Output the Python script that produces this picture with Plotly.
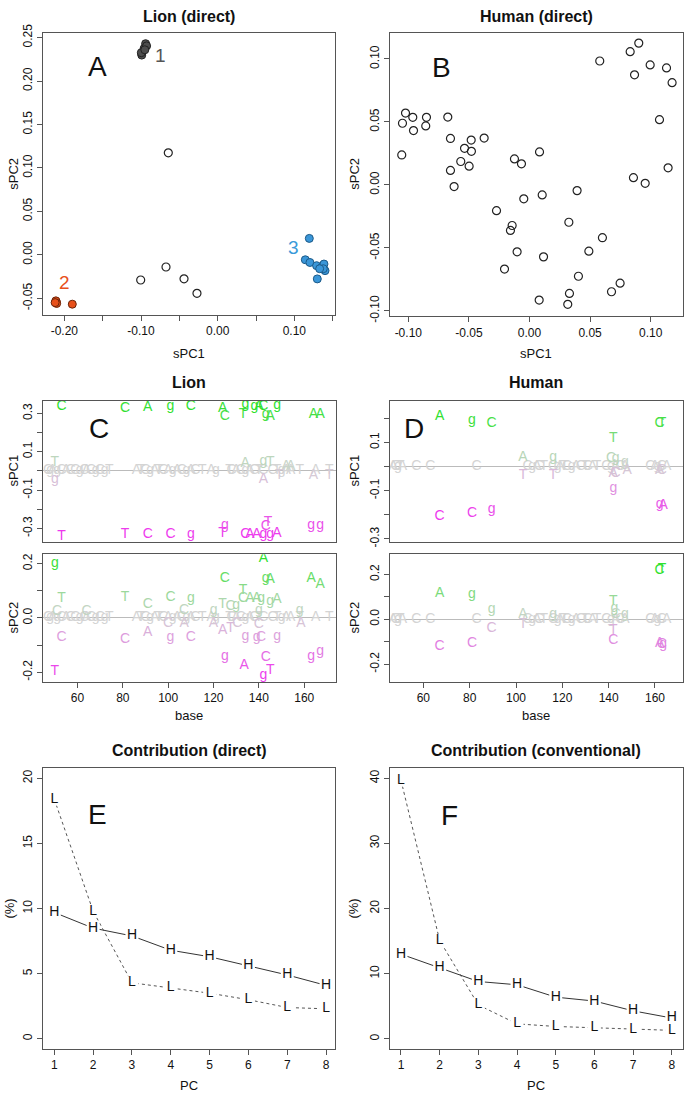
import plotly.graph_objects as go

W, H = 685, 1099
FONT = "Liberation Sans, Arial, sans-serif"

# ---------------- data ----------------
# Panel A: Lion (direct)
lion_open_x = [-0.0644, -0.1004, -0.0674, -0.0439, -0.027]
lion_open_y = [0.1174, -0.029, -0.014, -0.0276, -0.0443]
cl1_x = [-0.099, -0.094, -0.096, -0.0927, -0.0996, -0.095]
cl1_y = [0.2299, 0.243, 0.2375, 0.2405, 0.2326, 0.236]
cl2_x = [-0.2104, -0.211, -0.21, -0.212, -0.1896]
cl2_y = [-0.0542, -0.053, -0.056, -0.055, -0.0568]
cl3_x = [0.1195, 0.1143, 0.1203, 0.129, 0.1299, 0.1356, 0.1386, 0.14, 0.1377, 0.133]
cl3_y = [0.0189, -0.0057, -0.0088, -0.0125, -0.0277, -0.0144, -0.0106, -0.0182, -0.016, -0.016]

# Panel B: Human (direct)
human_x = [-0.1048, -0.1023, -0.0963, -0.0957, -0.085, -0.0856, -0.1054, -0.0674, -0.0652,
           -0.0536, -0.0481, -0.0479, -0.0374, -0.0567, -0.0498, -0.0652, -0.0622, -0.0124,
           -0.0066, 0.0083, -0.0047, 0.0105, -0.0272, -0.0143, -0.0157, -0.0102, 0.0116,
           -0.0206, 0.008, 0.0316, 0.033, 0.0404, 0.0325, 0.0393, 0.049, 0.0602, 0.0677,
           0.0748, 0.058, 0.0831, 0.0902, 0.0867, 0.0996, 0.1131, 0.1177, 0.1073, 0.1144,
           0.0858, 0.0955]
human_y = [0.049, 0.0571, 0.0537, 0.0432, 0.0537, 0.0469, 0.0238, 0.0539, 0.0369,
           0.0291, 0.0356, 0.0267, 0.0372, 0.0186, 0.0149, 0.0115, -0.0013, 0.0207,
           0.0168, 0.0262, -0.011, -0.0079, -0.0204, -0.0322, -0.0361, -0.0531, -0.0571,
           -0.0668, -0.0914, -0.0948, -0.0861, -0.0725, -0.0296, -0.0045, -0.0526, -0.0419,
           -0.0848, -0.078, 0.0984, 0.1058, 0.1126, 0.0874, 0.0953, 0.0929, 0.0812, 0.0518,
           0.0136, 0.0058, 0.0013]

# Panel C: Lion loadings
c1_base = [53, 81, 91, 101, 110, 124, 125, 133, 134, 138, 140, 142, 143, 145, 148, 164, 167,
           53, 81, 91, 101, 110, 124, 125, 134, 136, 139, 142, 145, 144, 143, 148, 163, 167,
           50, 134, 142, 145, 152, 154,
           50, 142, 149, 164, 171]
c1_letter = ["C", "C", "A", "g", "C", "A", "C", "T", "g", "g", "A", "C", "g", "A", "g", "A", "A",
             "T", "T", "C", "C", "g", "T", "g", "C", "A", "A", "g", "g", "T", "C", "A", "g", "g",
             "T", "A", "g", "T", "A", "A",
             "g", "A", "T", "A", "T"]
c1_val = [0.338, 0.326, 0.329, 0.334, 0.338, 0.326, 0.286, 0.292, 0.346, 0.338, 0.338, 0.338, 0.292, 0.286, 0.343, 0.292, 0.292,
          -0.34, -0.331, -0.334, -0.334, -0.331, -0.329, -0.283, -0.334, -0.334, -0.33, -0.331, -0.331, -0.27, -0.288, -0.326, -0.286, -0.286,
          0.046, 0.04, 0.051, 0.046, 0.022, 0.022,
          -0.046, -0.043, -0.022, -0.022, -0.022]

c2_base = [50, 142, 143, 145, 125, 163, 167,
           53, 81, 91, 101, 110, 133, 133, 136, 139, 141, 145, 148, 124, 127.5, 130, 120, 107, 140, 158, 64, 51,
           53, 81, 91, 101, 110, 120, 124, 127.5, 130.5, 134, 139, 141, 148, 140, 158.5, 107, 100,
           50, 125, 133.5, 143, 145, 142, 163, 167]
c2_letter = ["g", "A", "g", "A", "C", "A", "A",
             "T", "T", "C", "C", "g", "T", "C", "A", "A", "g", "g", "A", "T", "C", "g", "g", "C", "g", "g", "C", "C",
             "C", "C", "A", "g", "C", "A", "A", "T", "C", "g", "g", "C", "g", "C", "A", "A", "C",
             "T", "g", "A", "C", "T", "g", "g", "g"]
c2_val = [0.202, 0.218, 0.145, 0.142, 0.145, 0.145, 0.124,
          0.072, 0.075, 0.051, 0.075, 0.073, 0.102, 0.073, 0.073, 0.073, 0.073, 0.061, 0.067, 0.051, 0.041, 0.047, 0.027, 0.027, 0.029, 0.027, 0.023, 0.023,
          -0.073, -0.079, -0.052, -0.073, -0.073, -0.022, -0.048, -0.04, -0.022, -0.07, -0.073, -0.073, -0.07, -0.024, -0.022, -0.019, -0.022,
          -0.198, -0.141, -0.177, -0.145, -0.194, -0.213, -0.141, -0.122]

lion_zero_base = [47, 48, 49, 51, 53, 55, 57, 59, 61, 63, 64, 66, 68, 70, 72, 74,
                  86, 88, 90, 92, 94, 96, 98, 100, 102, 104, 106, 108, 110, 112, 115, 119, 121,
                  127, 128, 130, 132, 134, 136, 138, 140, 142, 146, 148, 150, 152, 154, 158, 165, 171]
lion_zero_letter = ["C", "g", "A", "g", "C", "A", "C", "C", "g", "C", "A", "C", "g", "C", "g", "T",
                    "A", "T", "C", "g", "A", "T", "C", "A", "g", "A", "C", "g", "A", "C", "T", "A", "g",
                    "T", "C", "A", "C", "g", "A", "C", "T", "C", "C", "T", "g", "A", "A", "T", "A", "T"]

# Panel D: Human loadings
d1_base = [67, 81, 89.5, 162, 163, 142, 141, 143, 103, 116, 147,
           103, 116, 142, 143, 148, 162, 163, 142,
           67, 81, 89.5, 162, 163.5]
d1_letter = ["A", "g", "C", "C", "T", "T", "C", "g", "A", "g", "g",
             "T", "T", "A", "C", "A", "A", "C", "g",
             "C", "C", "g", "g", "A"]
d1_val = [0.207, 0.19, 0.177, 0.177, 0.177, 0.118, 0.033, 0.033, 0.037, 0.037, 0.016,
          -0.038, -0.038, -0.027, -0.027, -0.018, -0.018, -0.018, -0.09,
          -0.208, -0.195, -0.177, -0.158, -0.163]

d2_base = [162, 163, 67, 81, 89.5, 142, 142.5, 103, 116, 143, 147,
           89.5, 103, 142, 142, 67, 81, 162, 163, 163.5]
d2_letter = ["C", "T", "A", "g", "g", "T", "g", "A", "g", "C", "g",
             "C", "T", "T", "C", "C", "C", "A", "C", "g"]
d2_val = [0.218, 0.222, 0.117, 0.109, 0.044, 0.08, 0.047, 0.022, 0.022, 0.022, 0.022,
          -0.041, -0.022, -0.051, -0.095, -0.121, -0.109, -0.109, -0.112, -0.114]

human_zero_base = [47, 48, 49, 50, 51, 57, 63, 83, 105, 107, 109, 110, 112, 116, 118, 119, 121,
                   122, 124, 126, 128, 130, 131, 133, 135, 139, 141, 143, 145, 147, 158, 160, 161, 163, 165]
human_zero_letter = ["A", "C", "g", "T", "A", "C", "C", "C", "C", "g", "A", "C", "T", "C", "g", "A", "T",
                     "C", "g", "A", "C", "T", "C", "A", "T", "C", "g", "A", "C", "A", "C", "A", "g", "C", "A"]

# Panels E/F: contributions
pcs = [1, 2, 3, 4, 5, 6, 7, 8]
direct_H = [9.7, 8.5, 7.9, 6.8, 6.3, 5.6, 4.9, 4.1]
direct_L = [18.4, 9.8, 4.3, 3.9, 3.5, 3.0, 2.4, 2.3]
conv_H = [13.0, 10.9, 8.8, 8.3, 6.4, 5.8, 4.3, 3.2]
conv_L = [39.7, 15.1, 5.2, 2.3, 1.9, 1.7, 1.5, 1.3]

# ---------------- layout helpers ----------------
def dx(a, b):
    return [a / W, b / W]

def dy(top, bot):
    return [1 - bot / H, 1 - top / H]

axis_common = dict(showline=True, mirror=True, linecolor="#555", linewidth=1,
                   ticks="outside", ticklen=5, tickcolor="#555", showgrid=False,
                   zeroline=False, tickfont=dict(size=12, color="#111", family=FONT),
                   fixedrange=True)

panels = {
    1: dict(x=(43, 335), y=(24, 310), xr=[-0.2278, 0.153], yr=[-0.069, 0.2557],
            xt=([-0.2, -0.15, -0.1, -0.05, 0, 0.05, 0.1, 0.15], ["-0.20", "", "-0.10", "", "0.00", "", "0.10", ""]),
            yt=([-0.05, 0, 0.05, 0.1, 0.15, 0.2, 0.25], ["-0.05", "0.00", "0.05", "0.10", "0.15", "0.20", "0.25"])),
    2: dict(x=(390, 683), y=(24, 311.7), xr=[-0.1151, 0.1267], yr=[-0.1044, 0.1209],
            xt=([-0.1, -0.05, 0, 0.05, 0.1], ["-0.10", "-0.05", "0.00", "0.05", "0.10"]),
            yt=([-0.1, -0.05, 0, 0.05, 0.1], ["-0.10", "-0.05", "0.00", "0.05", "0.10"])),
    3: dict(x=(43, 336), y=(397, 540), xr=[44.8, 174], yr=[-0.369, 0.367],
            xt=None,
            yt=([-0.3, -0.2, -0.1, 0, 0.1, 0.2, 0.3], ["-0.3", "", "-0.1", "", "0.1", "", "0.3"])),
    4: dict(x=(43, 336), y=(552.7, 682.3), xr=[44.8, 174], yr=[-0.236, 0.235],
            xt=([60, 80, 100, 120, 140, 160], ["60", "80", "100", "120", "140", "160"]),
            yt=([-0.2, -0.1, 0, 0.1, 0.2], ["-0.2", "", "0.0", "", "0.2"])),
    5: dict(x=(390, 683), y=(397.3, 540), xr=[45.6, 172.1], yr=[-0.311, 0.272],
            xt=None,
            yt=([-0.3, -0.2, -0.1, 0, 0.1, 0.2], ["-0.3", "", "-0.1", "", "0.1", ""])),
    6: dict(x=(390, 683), y=(552.7, 682.3), xr=[45.6, 172.1], yr=[-0.279, 0.29],
            xt=([60, 80, 100, 120, 140, 160], ["60", "80", "100", "120", "140", "160"]),
            yt=([-0.2, -0.1, 0, 0.1, 0.2], ["-0.2", "", "0.0", "", "0.2"])),
    7: dict(x=(43, 335), y=(770, 1054.3), xr=[0.709, 8.23], yr=[-0.78, 20.76],
            xt=(pcs, [str(p) for p in pcs]),
            yt=([0, 5, 10, 15, 20], ["0", "5", "10", "15", "20"])),
    8: dict(x=(390, 683), y=(770, 1054), xr=[0.716, 8.29], yr=[-1.5, 41.5],
            xt=(pcs, [str(p) for p in pcs]),
            yt=([0, 10, 20, 30, 40], ["0", "10", "20", "30", "40"])),
}

layout = dict(width=W, height=H, margin=dict(l=0, r=0, t=0, b=0),
              paper_bgcolor="white", plot_bgcolor="white", showlegend=False,
              font=dict(family=FONT, color="#111"))

for i, p in panels.items():
    xa = dict(axis_common, domain=dx(*p["x"]), range=p["xr"], anchor="y" + (str(i) if i > 1 else ""))
    ya = dict(axis_common, domain=dy(*p["y"]), range=p["yr"], anchor="x" + (str(i) if i > 1 else ""),
              tickangle=-90)
    if p["xt"] is None:
        xa.update(showticklabels=False, ticks="")
    else:
        xa.update(tickmode="array", tickvals=p["xt"][0], ticktext=p["xt"][1])
    ya.update(tickmode="array", tickvals=p["yt"][0], ticktext=p["yt"][1])
    if i in (3, 4, 5, 6):
        ya.update(zeroline=True, zerolinecolor="#BBBBBB", zerolinewidth=1)
    layout["xaxis" + (str(i) if i > 1 else "")] = xa
    layout["yaxis" + (str(i) if i > 1 else "")] = ya

fig = go.Figure(layout=layout)

def ax(i):
    s = str(i) if i > 1 else ""
    return dict(xaxis="x" + s, yaxis="y" + s)

# ---- Panel A ----
fig.add_trace(go.Scatter(x=lion_open_x, y=lion_open_y, mode="markers",
                         marker=dict(symbol="circle-open", size=8, color="#222", line=dict(width=1.2)), **ax(1)))
fig.add_trace(go.Scatter(x=cl1_x, y=cl1_y, mode="markers",
                         marker=dict(size=8, color="#4D4D4D", line=dict(color="#222", width=1)), **ax(1)))
fig.add_trace(go.Scatter(x=cl2_x, y=cl2_y, mode="markers",
                         marker=dict(size=8, color="#E8501A", line=dict(color="#6a2408", width=1)), **ax(1)))
fig.add_trace(go.Scatter(x=cl3_x, y=cl3_y, mode="markers",
                         marker=dict(size=8, color="#3A96D8", line=dict(color="#1c5a88", width=1)), **ax(1)))

# ---- Panel B ----
fig.add_trace(go.Scatter(x=human_x, y=human_y, mode="markers",
                         marker=dict(symbol="circle-open", size=8, color="#222", line=dict(width=1.2)), **ax(2)))

# ---- Panels C/D ----
GRAY = (212, 212, 212)
GREEN = (45, 225, 45)
MAG = (238, 55, 238)

def colour(v, vmax):
    t = min(1.0, abs(v) / vmax)
    tgt = GREEN if v > 0 else MAG
    c = [round(GRAY[k] + (tgt[k] - GRAY[k]) * t) for k in range(3)]
    return "rgb(%d,%d,%d)" % tuple(c)

def letters(i, zb, zl, bases, lets, vals, vmax):
    fig.add_trace(go.Scatter(x=zb, y=[0] * len(zb), text=zl, mode="text",
                             textfont=dict(size=14, color="rgb(212,212,212)", family=FONT), **ax(i)))
    fig.add_trace(go.Scatter(x=bases, y=vals, text=lets, mode="text",
                             textfont=dict(size=14, color=[colour(v, vmax) for v in vals], family=FONT), **ax(i)))

letters(3, lion_zero_base, lion_zero_letter, c1_base, c1_letter, c1_val, 0.34)
letters(4, lion_zero_base, lion_zero_letter, c2_base, c2_letter, c2_val, 0.22)
letters(5, human_zero_base, human_zero_letter, d1_base, d1_letter, d1_val, 0.21)
letters(6, human_zero_base, human_zero_letter, d2_base, d2_letter, d2_val, 0.22)

# ---- Panels E/F ----
def contrib(i, hv, lv):
    fig.add_trace(go.Scatter(x=pcs, y=hv, mode="lines", line=dict(color="#333", width=1), **ax(i)))
    fig.add_trace(go.Scatter(x=pcs, y=lv, mode="lines", line=dict(color="#555", width=1, dash="dot"), **ax(i)))
    for vals, lab in ((hv, "H"), (lv, "L")):
        fig.add_trace(go.Scatter(x=pcs, y=vals, mode="markers+text", text=[lab] * len(pcs),
                                 textposition="middle center",
                                 marker=dict(symbol="square", size=13, color="white", line=dict(width=0)),
                                 textfont=dict(size=14, color="#111", family=FONT), **ax(i)))

contrib(7, direct_H, direct_L)
contrib(8, conv_H, conv_L)

# ---------------- annotations ----------------
ann = []

def txt(x, y, s, size=13, bold=False, angle=0, color="#111", ref=None):
    d = dict(x=x, y=y, text=("<b>%s</b>" % s) if bold else s, showarrow=False,
             font=dict(size=size, color=color, family=FONT), textangle=angle,
             xanchor="center", yanchor="middle")
    if ref is None:
        d.update(xref="paper", yref="paper", x=x / W, y=1 - y / H)
    else:
        s_ = str(ref) if ref > 1 else ""
        d.update(xref="x" + s_, yref="y" + s_)
    ann.append(d)

# titles
txt(189, 8, "Lion (direct)", 16, True)
txt(536, 8, "Human (direct)", 16, True)
txt(189, 379, "Lion", 16, True)
txt(536, 379, "Human", 16, True)
txt(189, 752, "Contribution (direct)", 16, True)
txt(536, 752, "Contribution (conventional)", 16, True)

# axis titles
txt(189, 349, "sPC1")
txt(536, 349, "sPC1")
txt(14, 167, "sPC2", angle=-90)
txt(355, 167, "sPC2", angle=-90)
txt(14, 468, "sPC1", angle=-90)
txt(14, 617, "sPC2", angle=-90)
txt(355, 468, "sPC1", angle=-90)
txt(355, 617, "sPC2", angle=-90)
txt(189, 716, "base")
txt(536, 716, "base")
txt(10, 912, "(%)", angle=-90)
txt(354, 912, "(%)", angle=-90)
txt(189, 1091, "PC")
txt(536, 1091, "PC")

# panel letters
txt(-0.1565, 0.2167, "A", 28, ref=1)
txt(-0.0724, 0.0932, "B", 28, ref=2)
txt(69.3, 0.223, "C", 28, ref=3)
txt(56, 0.159, "D", 28, ref=5)
txt(2.12, 17.2, "E", 28, ref=7)
txt(2.25, 34.3, "F", 28, ref=8)

# cluster labels
txt(-0.075, 0.23, "1", 19, color="#555", ref=1)
txt(-0.20, -0.0315, "2", 19, color="#E8501A", ref=1)
txt(0.0986, 0.0083, "3", 19, color="#3A9AD9", ref=1)

fig.update_layout(annotations=ann)
fig.write_html("out.html", config={"displayModeBar": False},
               post_script="document.body.style.margin='0';document.body.style.overflow='hidden';")
